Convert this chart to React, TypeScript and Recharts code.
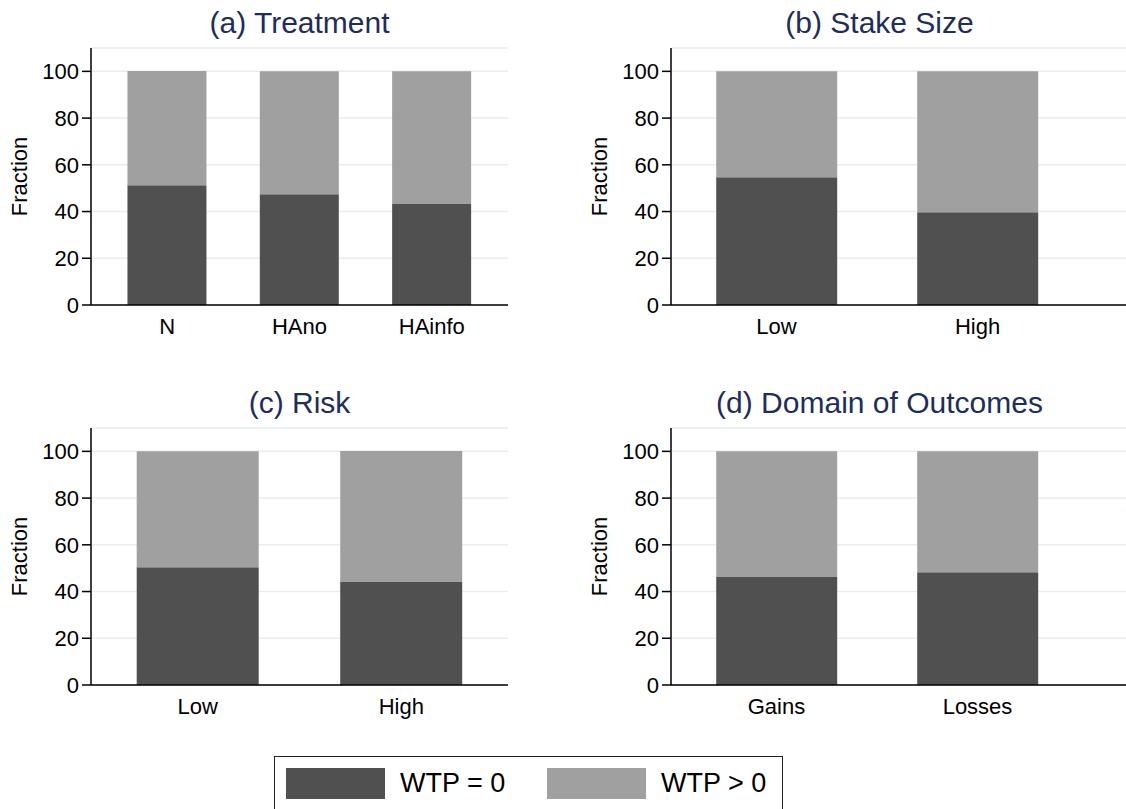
import React from 'react';
import { BarChart, Bar, XAxis, YAxis, CartesianGrid, Label } from 'recharts';

// Panel (a) Treatment
const treatmentCats = ['N', 'HAno', 'HAinfo'];
const treatmentZero = [51.3, 47.4, 43.2];
const treatmentPos = [48.9, 52.6, 56.8];

// Panel (b) Stake Size
const stakeCats = ['Low', 'High'];
const stakeZero = [54.7, 39.7];
const stakePos = [45.3, 60.3];

// Panel (c) Risk
const riskCats = ['Low', 'High'];
const riskZero = [50.4, 44.3];
const riskPos = [49.6, 55.9];

// Panel (d) Domain of Outcomes
const domainCats = ['Gains', 'Losses'];
const domainZero = [46.2, 48.3];
const domainPos = [53.8, 51.7];

const yTicks = [0, 20, 40, 60, 80, 100];
const legendLabels = ['WTP = 0', 'WTP > 0'];

const FONT = '"Liberation Sans", Arial, Helvetica, sans-serif';
const DARK = '#505050';
const LIGHT = '#a0a0a0';
const GRID = '#e6eef1';
const TITLE = '#1e2d5a';

type PanelProps = {
  title: string;
  cats: string[];
  zero: number[];
  pos: number[];
  left: number;
  top: number;
  width: number;
  marginRight: number;
  padLeft: number;
  padRight: number;
};

function Panel({ title, cats, zero, pos, left, top, width, marginRight, padLeft, padRight }: PanelProps) {
  const rows = cats.map((c, i) => ({ name: c, zero: zero[i], pos: pos[i] }));
  return (
    <div style={{ position: 'absolute', left, top, width, height: 350 }}>
      <div
        style={{
          position: 'absolute',
          left: 91,
          top: 8,
          width: 417,
          textAlign: 'center',
          fontSize: 30,
          lineHeight: '30px',
          color: TITLE,
          fontFamily: FONT,
          whiteSpace: 'nowrap',
        }}
      >
        {title}
      </div>
      <BarChart
        width={width}
        height={350}
        data={rows}
        margin={{ top: 48, right: marginRight, bottom: 5, left: 0 }}
        barCategoryGap="20%"
        style={{ fontFamily: FONT }}
      >
        <CartesianGrid vertical={false} stroke={GRID} strokeWidth={1.5} />
        <XAxis
          dataKey="name"
          tickLine={false}
          axisLine={{ stroke: '#000', strokeWidth: 1.5 }}
          tick={{ fill: '#000', fontSize: 22, fontFamily: FONT }}
          tickMargin={7}
          height={40}
          padding={{ left: padLeft, right: padRight }}
          interval={0}
        />
        <YAxis
          width={91}
          domain={[0, 110]}
          ticks={yTicks}
          interval={0}
          tickSize={9}
          tickMargin={3}
          axisLine={{ stroke: '#000', strokeWidth: 1.5 }}
          tickLine={{ stroke: '#000', strokeWidth: 1.5 }}
          tick={{ fill: '#000', fontSize: 22, fontFamily: FONT }}
        >
          <Label
            value="Fraction"
            angle={-90}
            position="insideLeft"
            offset={19}
            style={{ textAnchor: 'middle', fill: '#000', fontSize: 22, fontFamily: FONT }}
          />
        </YAxis>
        <Bar dataKey="zero" stackId="s" fill={DARK} isAnimationActive={false} />
        <Bar dataKey="pos" stackId="s" fill={LIGHT} isAnimationActive={false} />
      </BarChart>
    </div>
  );
}

export default function App() {
  return (
    <div
      style={{
        position: 'absolute',
        left: 0,
        top: 0,
        width: 1126,
        height: 809,
        overflow: 'hidden',
        background: '#fff',
        fontFamily: FONT,
      }}
    >
      <Panel title="(a) Treatment" cats={treatmentCats} zero={treatmentZero} pos={treatmentPos}
        left={0} top={0} width={560} marginRight={52} padLeft={10} padRight={10} />
      <Panel title="(b) Stake Size" cats={stakeCats} zero={stakeZero} pos={stakePos}
        left={580} top={0} width={546} marginRight={0} padLeft={5} padRight={48} />
      <Panel title="(c) Risk" cats={riskCats} zero={riskZero} pos={riskPos}
        left={0} top={380} width={560} marginRight={52} padLeft={5} padRight={5} />
      <Panel title="(d) Domain of Outcomes" cats={domainCats} zero={domainZero} pos={domainPos}
        left={580} top={380} width={546} marginRight={0} padLeft={5} padRight={48} />

      <div
        style={{
          position: 'absolute',
          left: 274,
          top: 756,
          width: 509,
          height: 80,
          border: '1.5px solid #222',
          boxSizing: 'border-box',
        }}
      >
        {legendLabels.map((label, i) => (
          <div
            key={label}
            style={{
              position: 'absolute',
              left: 11 + i * 261,
              top: 11,
              display: 'flex',
              alignItems: 'center',
            }}
          >
            <div style={{ width: 99, height: 31, background: i === 0 ? DARK : LIGHT }} />
            <span style={{ marginLeft: 15, fontSize: 27, lineHeight: '31px', color: '#000' }}>{label}</span>
          </div>
        ))}
      </div>
    </div>
  );
}
